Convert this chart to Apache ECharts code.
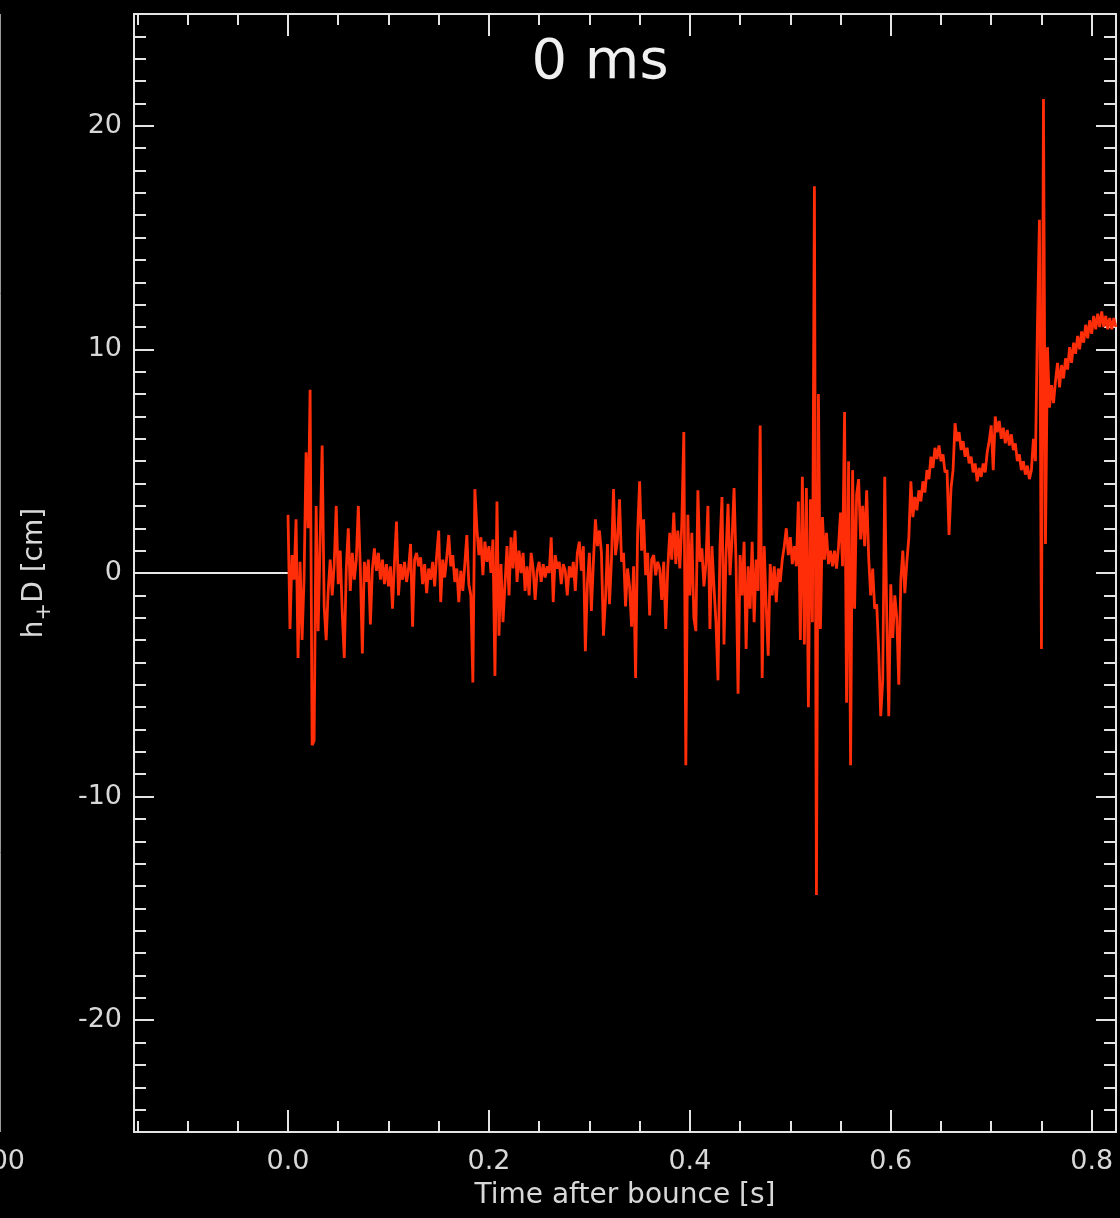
<!DOCTYPE html>
<html>
<head>
<meta charset="utf-8">
<title>h+D</title>
<script src="https://cdn.jsdelivr.net/npm/echarts@6/dist/echarts.min.js"></script>
<style>
  html, body { margin: 0; padding: 0; background: #000; }
  #chart { width: 1120px; height: 1218px; }
</style>
</head>
<body>
<div id="chart"></div>
<script>
// ---------------- data ----------------
var dt = 0.002;          // sample step [s], first sample at t = 0
var tMin = -0.1533;
var tMax = 0.8242;

// h+D [cm], 0.000 - 0.282 s
var hSeg1 = [
  2.6, -2.5, 0.8, -0.3, 2.4, -3.8, 0.5, -3.0, -0.2, 5.4,
  2.0, 8.2, -7.7, -7.5, 3.0, -2.6, 1.5, 5.7, -1.5, -3.0,
  -0.8, 0.6, -1.0, 0.4, 3.0, -0.5, 1.0, -1.8, -3.8, 0.2,
  2.0, -0.8, 0.9, -0.3, 0.6, 3.0, 0.2, -3.6, 0.5, -0.4,
  0.6, -2.3, 0.2, 1.1, 0.1, 0.9, -0.3, 0.6, -0.5, 0.4,
  -0.6, 0.3, -1.6, 0.5, 2.3, -1.0, 0.4, -0.3, 0.5, -0.4,
  0.2, 1.3, -2.4, 0.6, 0.9, 0.3, 0.7, -0.5, 0.4, -0.9,
  0.2, -0.3, 0.5, -0.6, 0.8, 1.9, -1.3, 0.6, -0.2, 0.7,
  1.7, 0.3, 0.8, -0.4, 0.2, -1.3, 0.1, -0.8, 0.4, 1.7,
  -0.5, -1.0, -4.9, 3.75, 2.0, 0.8, 1.6, -0.1, 1.4, 0.5,
  1.2, 0.0, 1.5, -4.6, 3.2, -2.8, 0.4, -2.2, -0.5, 1.2,
  -1.0, 1.6, 0.2, 1.9, -0.4, 1.0, 0.0, 0.9, -0.8, 0.3,
  -1.0, 0.9, 0.2, -1.2, 0.1, 0.5, -0.4, 0.4, -0.2, 0.3,
  0.0, 1.6, -1.3, 0.8, 0.2, 0.5, -0.5, 0.4, 0.1, -1.0,
  0.3, -0.2
];

// h+D [cm], 0.284 - 0.542 s
var hSeg2 = [
  0.5, -0.8, 0.9, 1.4, 0.1, 1.2, -3.5, -0.5, 0.9, -1.7,
  0.5, 2.4, 1.2, 1.9, 0.9, -2.8, -1.2, 1.3, -1.4, 0.6,
  3.75, 0.8, 1.5, 3.3, 0.5, 0.9, -1.5, 0.2, -0.6, -2.4,
  0.3, -4.7, 1.8, 4.1, 1.0, 2.4, -0.1, 0.9, -1.9, 0.6,
  0.8, -0.1, 0.5, 0.2, -1.2, 0.5, -2.5, 0.2, 1.8, 0.6,
  2.7, 0.4, 1.9, 0.2, 2.2, 6.3, -8.6, 2.6, -1.0, 1.8,
  -2.0, -2.6, 3.7, 0.5, 1.1, -0.6, 0.4, 3.0, -2.5, 1.2,
  -0.6, -2.2, -4.8, 1.2, 3.4, -3.2, 0.8, 3.1, -0.1, 1.5,
  3.8, 0.4, -5.4, 0.8, -1.0, 1.4, -3.4, 0.3, -1.6, 1.4,
  -2.2, 0.6, -0.8, 6.6, -4.7, 1.2, -1.5, -3.7, 0.4, -1.0,
  0.3, -1.3, 0.2, -0.4, 0.6, 1.2, 2.0, 0.8, 1.6, 0.4,
  1.2, 0.3, 3.2, -3.0, 4.3, -3.2, 3.8, -6.0, 3.3, -2.2,
  17.3, -14.4, 8.0, -2.5, 2.5, 0.6, 1.8, 0.4, 1.0, 0.3
];

// h+D [cm], 0.544 - 0.824 s
var hSeg3 = [
  1.0, 0.2, 1.2, 2.7, 0.3, 7.2, -5.8, 5.0, -8.6, 4.6,
  -1.6, 3.5, 4.2, 1.5, 3.0, 1.2, 3.7, 0.7, -1.0, 0.2,
  -1.6, -1.4, -3.5, -6.4, -4.8, 4.3, -2.0, -6.4, -0.5, -2.9,
  -1.0, -2.0, -5.0, -0.3, 1.0, -0.9, 0.5, 1.6, 4.1, 2.5,
  3.4, 2.8, 3.7, 3.2, 4.1, 3.6, 4.6, 4.2, 5.2, 4.7,
  5.6, 5.1, 5.7, 5.0, 5.3, 4.5, 4.6, 1.7, 3.8, 4.6,
  6.7, 5.9, 6.3, 5.5, 5.9, 5.2, 5.6, 4.9, 5.2, 4.5,
  4.9, 4.1, 4.7, 4.3, 4.9, 4.5, 5.4, 5.9, 6.6, 4.6,
  7.0, 6.3, 6.8, 6.0, 6.5, 5.8, 6.4, 5.7, 6.2, 5.5,
  5.8, 5.0, 5.3, 4.6, 5.0, 4.4, 4.8, 4.2, 4.6, 6.0,
  5.0, 11.1, 15.8, -3.4, 21.2, 1.3, 10.1, 7.4, 8.4, 7.6,
  8.6, 9.4, 8.3, 9.3, 8.7, 9.6, 9.1, 10.1, 9.4, 10.3,
  9.8, 10.6, 10.0, 10.8, 10.3, 11.1, 10.5, 11.3, 10.7, 11.5,
  10.9, 11.6, 11.0, 11.7, 11.0, 11.5, 10.9, 11.4, 10.9, 11.4,
  11.0
];

// pre-bounce part (flat zero)
var preBounce = [[tMin, 0], [0, 0]];

// ticks
var xMajor = [0, 0.2, 0.4, 0.6, 0.8];
var xMinor = [-0.15, -0.1, -0.05, 0.05, 0.1, 0.15, 0.25, 0.3, 0.35, 0.45, 0.5, 0.55, 0.65, 0.7, 0.75];
var yMajor = [-20, -10, 0, 10, 20];
var yMinor = [-24, -23, -22, -21, -19, -18, -17, -16, -15, -14, -13, -12, -11,
              -9, -8, -7, -6, -5, -4, -3, -2, -1, 1, 2, 3, 4, 5, 6, 7, 8, 9,
              11, 12, 13, 14, 15, 16, 17, 18, 19, 21, 22, 23, 24];

var titleText = '0 ms';

// -------------------------------------------------------------
var hAll = hSeg1.concat(hSeg2, hSeg3);
var signal = [];
for (var i = 0; i < hAll.length; i++) {
  signal.push([i * dt, hAll[i]]);
}

var fg = '#e4e4e4';
var fontFam = 'DejaVu Sans';
var gridBox = { left: 134, top: 14, width: 982, height: 1118 };

function xAx(grid, pos, ticks, len, withLabel) {
  return {
    type: 'value', gridIndex: grid, position: pos,
    min: tMin, max: tMax,
    axisLine: { show: grid === 0, onZero: false, lineStyle: { color: fg, width: 2 } },
    axisTick: { show: true, inside: true, length: len, customValues: ticks,
                lineStyle: { color: fg, width: 2 } },
    axisLabel: withLabel ? {
      show: true, customValues: xMajor, margin: 16,
      color: '#d8d8d8', fontFamily: fontFam, fontSize: 27,
      formatter: function (v) { return v.toFixed(1); }
    } : { show: false },
    splitLine: { show: false }
  };
}

function yAx(grid, pos, ticks, len, withLabel) {
  return {
    type: 'value', gridIndex: grid, position: pos,
    min: -25, max: 25,
    axisLine: { show: grid === 0, onZero: false, lineStyle: { color: fg, width: 2 } },
    axisTick: { show: true, inside: true, length: len, customValues: ticks,
                lineStyle: { color: fg, width: 2 } },
    axisLabel: withLabel ? {
      show: true, customValues: yMajor, margin: 12,
      color: '#d8d8d8', fontFamily: fontFam, fontSize: 27,
      formatter: function (v) { return String(v); }
    } : { show: false },
    splitLine: { show: false }
  };
}

var xBottom = xAx(0, 'bottom', xMajor, 22, true);
xBottom.name = 'Time after bounce [s]';
xBottom.nameLocation = 'middle';
xBottom.nameGap = 50;
xBottom.nameTextStyle = { color: '#d8d8d8', fontFamily: fontFam, fontSize: 28 };

var yLeft = yAx(0, 'left', yMajor, 20, true);
yLeft.name = '{n|h}{s|+}{n|D [cm]}';
yLeft.nameLocation = 'middle';
yLeft.nameGap = 79;
yLeft.nameRotate = 90;
yLeft.nameTextStyle = {
  color: '#d8d8d8', fontFamily: fontFam,
  rich: {
    n: { fontSize: 28, lineHeight: 40, color: '#d8d8d8', fontFamily: fontFam, verticalAlign: 'middle' },
    s: { fontSize: 21, lineHeight: 40, color: '#d8d8d8', fontFamily: fontFam, verticalAlign: 'bottom' }
  }
};

var chart = echarts.init(document.getElementById('chart'));
chart.setOption({
  backgroundColor: '#000',
  animation: false,
  grid: [
    Object.assign({}, gridBox),
    Object.assign({}, gridBox)
  ],
  xAxis: [
    xBottom,
    xAx(0, 'top', xMajor, 22, false),
    xAx(1, 'bottom', xMinor, 11, false),
    xAx(1, 'top', xMinor, 11, false)
  ],
  yAxis: [
    yLeft,
    yAx(0, 'right', yMajor, 20, false),
    yAx(1, 'left', yMinor, 12, false),
    yAx(1, 'right', yMinor, 12, false)
  ],
  graphic: [
    { type: 'text', silent: true,
      style: { text: titleText, x: 600, y: 63, align: 'center', verticalAlign: 'middle',
               fill: '#f0f0f0', font: '56px "DejaVu Sans"' } },
    // edge of the neighbouring panel
    { type: 'line', silent: true,
      shape: { x1: 0.5, y1: 14, x2: 0.5, y2: 1132 },
      style: { stroke: '#9a9a9a', lineWidth: 1 } },
    { type: 'text', silent: true,
      style: { text: '100', x: 25, y: 1162, align: 'right', verticalAlign: 'middle',
               fill: '#d8d8d8', font: '27px "DejaVu Sans"' } }
  ],
  series: [
    {
      name: 'pre', type: 'line', xAxisIndex: 0, yAxisIndex: 0,
      data: preBounce, showSymbol: false, silent: true,
      lineStyle: { color: '#e8e8e8', width: 2 }
    },
    {
      name: 'h+D', type: 'line', xAxisIndex: 0, yAxisIndex: 0,
      data: signal, showSymbol: false, silent: true, clip: true,
      lineStyle: { color: '#ff2d08', width: 2.8 }
    }
  ]
});

window.addEventListener('resize', function () {
  chart.resize();
});
</script>
</body>
</html>
